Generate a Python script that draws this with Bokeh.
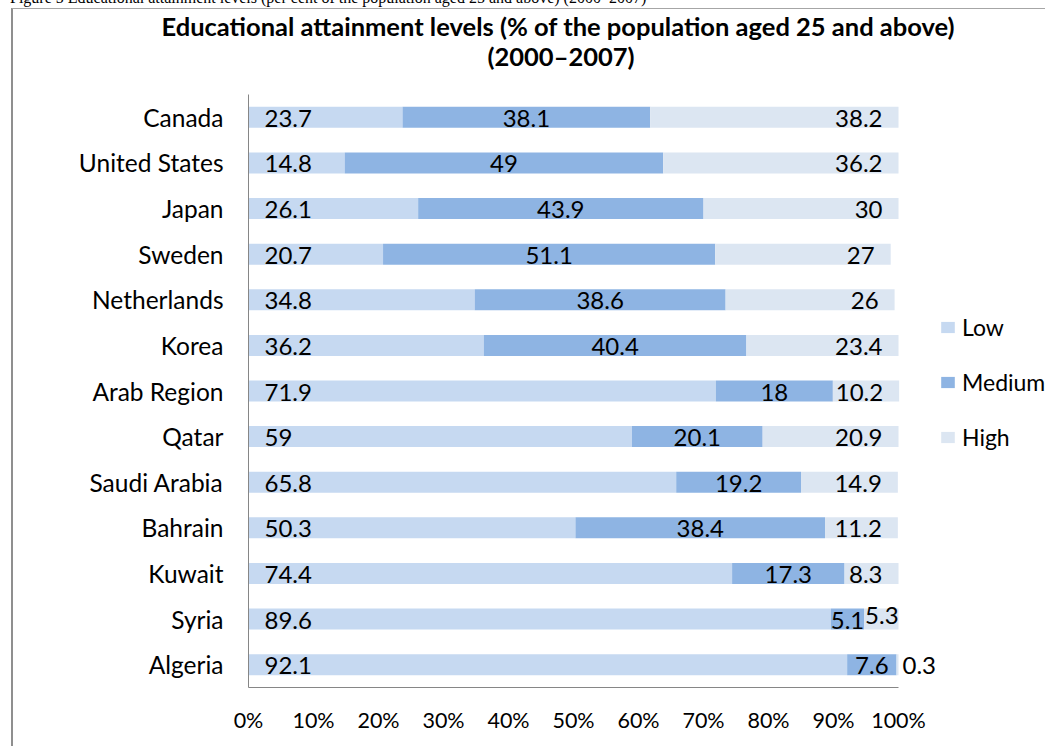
from bokeh.plotting import figure
from bokeh.layouts import column
from bokeh.models import (ColumnDataSource, FactorRange, Range1d, Legend, LegendItem,
                          FixedTicker, PrintfTickFormatter, Title, Div)
from bokeh.core.properties import value
from bokeh.embed import file_html
from bokeh.resources import INLINE

# ---- data -------------------------------------------------------------
countries = ["Canada", "United States", "Japan", "Sweden", "Netherlands", "Korea",
             "Arab Region", "Qatar", "Saudi Arabia", "Bahrain", "Kuwait", "Syria", "Algeria"]
low = [23.7, 14.8, 26.1, 20.7, 34.8, 36.2, 71.9, 59, 65.8, 50.3, 74.4, 89.6, 92.1]
medium = [38.1, 49, 43.9, 51.1, 38.6, 40.4, 18, 20.1, 19.2, 38.4, 17.3, 5.1, 7.6]
high = [38.2, 36.2, 30, 27, 26, 23.4, 10.2, 20.9, 14.9, 11.2, 8.3, 5.3, 0.3]
series = ["Low", "Medium", "High"]
x_ticks = [0, 10, 20, 30, 40, 50, 60, 70, 80, 90, 100]
title_line1 = "Educational attainment levels (% of the population aged 25 and above)"
title_line2 = "(2000\u20132007)"
caption = ("Figure 5  Educational attainment levels (per cent of the population aged 25 "
           "and above) (2000\u20132007)")

# ---- layout / styles ----------------------------------------------------
FONT = "Lato"
colors = {"Low": "#c6d9f1", "Medium": "#8eb4e3", "High": "#dce6f2"}
W, H = 1034, 738
LEFT, TOP, BOTTOM = 235, 85, 60
BAR_PX = 650                      # pixel length of a 100 % bar
FRAME_W = W - LEFT                # frame runs to the right edge (legend lives there)
X_END = 100.0 * FRAME_W / BAR_PX


def fmt(v):
    return "%g" % v


low_end = list(low)
med_end = [l + m for l, m in zip(low, medium)]
tot_end = [l + m + h for l, m, h in zip(low, medium, high)]

src = ColumnDataSource(dict(
    country=countries,
    low0=[0] * len(low), low1=low_end,
    med0=low_end, med1=med_end,
    high0=med_end, high1=tot_end,
))

p = figure(width=W, height=H, output_backend="svg", toolbar_location=None,
           y_range=FactorRange(factors=countries[::-1]), x_range=Range1d(0, X_END),
           min_border_left=LEFT, min_border_right=0, min_border_top=TOP,
           min_border_bottom=BOTTOM)
p.styles = {"margin-left": "11px", "margin-top": "-3px",
            "border-left": "2px solid #8f8f8f", "border-top": "1px solid #a6a6a6"}
p.outline_line_color = None
p.background_fill_color = "white"
p.border_fill_color = "white"
p.xgrid.visible = False
p.ygrid.visible = False

BAR_H = 0.46
r_low = p.hbar(y="country", left="low0", right="low1", height=BAR_H, source=src,
               fill_color=colors["Low"], line_color=None)
r_med = p.hbar(y="country", left="med0", right="med1", height=BAR_H, source=src,
               fill_color=colors["Medium"], line_color=None)
r_high = p.hbar(y="country", left="high0", right="high1", height=BAR_H, source=src,
                fill_color=colors["High"], line_color=None)

# ---- data labels ------------------------------------------------------
lab_font = dict(text_font=value(FONT), text_font_size="24px", text_color="#000000",
                text_baseline="middle")

p.text(x="x", y="country", text="t",
       source=ColumnDataSource(dict(x=[0] * len(low), country=countries,
                                    t=[fmt(v) for v in low])),
       text_align="left", x_offset=16, y_offset=1, **lab_font)
p.text(x="x", y="country", text="t",
       source=ColumnDataSource(dict(x=[a + m / 2 for a, m in zip(low, medium)],
                                    country=countries, t=[fmt(v) for v in medium])),
       text_align="center", x_offset=0, y_offset=1, **lab_font)

# High labels: inside end normally; tiny segments are placed outside / lifted
hx, ha, hxo, hyo = [], [], [], []
for m_end, t_end, h in zip(med_end, tot_end, high):
    if h < 1:
        hx.append(t_end); ha.append("left"); hxo.append(4); hyo.append(1)
    elif h < 6:
        hx.append(m_end); ha.append("left"); hxo.append(1); hyo.append(-4)
    else:
        hx.append(t_end); ha.append("right"); hxo.append(-16); hyo.append(1)
p.text(x="x", y="country", text="t",
       source=ColumnDataSource(dict(x=hx, country=countries, t=[fmt(v) for v in high],
                                    a=ha, xo=hxo, yo=hyo)),
       text_align="a", x_offset="xo", y_offset="yo", **lab_font)

# ---- title (two lines, stacked outward from the frame) ---------------------
spacer = Title(text=" ", text_font_size="10px", standoff=11)
t2 = Title(text=title_line2, align="left", text_font=FONT, text_font_style="bold",
           text_font_size="25.5px", text_color="#000000", offset=239, standoff=0)
t1 = Title(text=title_line1, align="left", text_font=FONT, text_font_style="bold",
           text_font_size="25.5px", text_color="#000000", offset=-87, standoff=-5)
p.add_layout(spacer, "above")
p.add_layout(t2, "above")
p.add_layout(t1, "above")

# ---- axes -------------------------------------------------------------
p.xaxis.ticker = FixedTicker(ticks=x_ticks)
p.xaxis.formatter = PrintfTickFormatter(format="%d%%")
p.xaxis.bounds = (0, 100)
for ax in (p.xaxis, p.yaxis):
    ax.major_tick_line_color = None
    ax.minor_tick_line_color = None
    ax.major_tick_out = 0
    ax.major_tick_in = 0
    ax.minor_tick_out = 0
    ax.axis_line_color = "#868686"
    ax.major_label_text_font = FONT
    ax.major_label_text_color = "#000000"
p.xaxis.major_label_text_font_size = "21.5px"
p.xaxis.major_label_standoff = 19
p.yaxis.major_label_text_font_size = "24.5px"
p.yaxis.major_label_standoff = 25

# ---- legend -----------------------------------------------------------
legend = Legend(items=[LegendItem(label=s, renderers=[r]) for s, r in
                       zip(series, [r_low, r_med, r_high])],
                location=(BAR_PX + 41, 236), orientation="vertical",
                glyph_width=17, glyph_height=14, label_standoff=6, spacing=27,
                padding=0, margin=0, border_line_color=None, background_fill_alpha=0,
                label_text_font=FONT, label_text_font_size="23px", label_text_color="#000000")
p.add_layout(legend, "center")

cap = Div(text=('<div style="font-family:\'Liberation Serif\',serif; font-size:16px; '
                'line-height:16px; white-space:nowrap; color:#000;">' + caption + '</div>'),
          width=W, height=16, styles={"margin-top": "-10px", "margin-left": "10px"})

layout = column(cap, p, spacing=0)
open("out.html", "w").write(file_html(layout, INLINE))
